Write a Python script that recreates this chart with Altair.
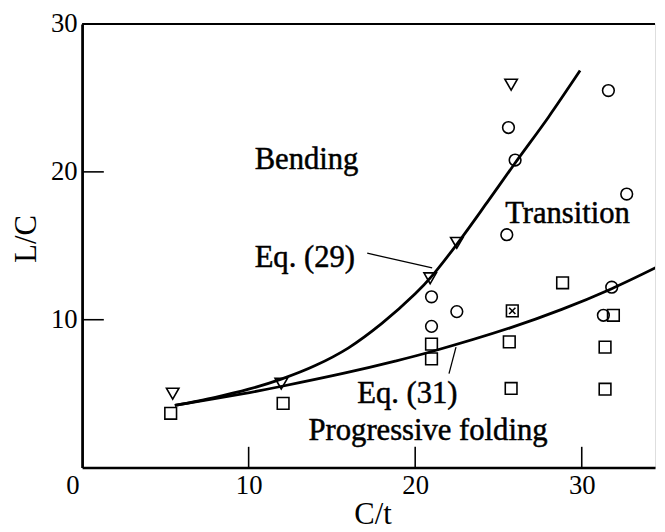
import altair as alt
import pandas as pd

# ---- data ----
tri_x = [5.44, 11.96, 20.9, 22.5, 25.76]
tri_y = [5.0, 5.68, 12.8, 15.2, 25.9]

circ_x = [20.98, 22.5, 20.98, 25.6, 26.0, 31.6, 32.7, 25.5, 31.8, 31.3]
circ_y = [11.55, 10.55, 9.55, 23.0, 20.8, 25.5, 18.5, 15.75, 12.2, 10.3]

sq_x = [5.32, 12.07, 20.98, 20.98, 28.85, 25.83, 31.9, 25.65, 31.4, 25.76, 31.4]
sq_y = [3.67, 4.34, 8.35, 7.35, 12.5, 10.6, 10.3, 8.5, 8.15, 5.35, 5.3]

cross_x = [25.83]
cross_y = [10.6]

eq29_x = [5.57, 8.0, 10.0, 12.0, 14.0, 16.0, 18.0, 20.0, 21.0, 22.5, 24.3, 26.0, 28.0, 29.9]
eq29_y = [4.2, 4.75, 5.3, 6.0, 6.9, 8.1, 9.75, 11.75, 12.95, 15.1, 17.9, 20.6, 23.7, 26.85]

eq31_x = [5.57, 9.7, 12.0, 15.8, 18.8, 21.0, 25.7, 28.8, 31.8, 34.5]
eq31_y = [4.2, 5.0, 5.5, 6.4, 7.2, 7.85, 9.45, 10.7, 12.1, 13.55]

lead29_x = [17.12, 21.02]
lead29_y = [14.5, 13.5]
lead31_x = [22.45, 22.03]
lead31_y = [8.15, 6.35]

label_text = ["Bending", "Transition", "Eq. (29)", "Eq. (31)", "Progressive folding"]
label_x = [10.36, 25.4, 10.36, 16.52, 13.6]
label_y = [20.17, 16.57, 13.56, 4.34, 1.87]

x_tick_values = [0, 10, 20, 30]
y_tick_values = [10, 20, 30]
x_inner_ticks = [10, 20, 30]
y_inner_ticks = [10, 20]

X_MAX = 34.4
Y_MAX = 30
W, H = 580, 449
FONT = "Liberation Serif"

xs = alt.Scale(domain=[0, X_MAX], nice=False, zero=False)
ys = alt.Scale(domain=[0, Y_MAX], nice=False, zero=False)

xaxis = alt.Axis(
    values=x_tick_values, ticks=False, grid=False, labelFlush=False,
    domainColor="black", domainWidth=2.6,
    labelFont=FONT, labelFontSize=27, labelColor="black", labelPadding=5,
    labelAlign={"condition": {"test": "datum.value == 0", "value": "right"}, "value": "center"},
    labelOffset={"condition": {"test": "datum.value == 0", "value": -3}, "value": 0},
    title="C/t", titleFont=FONT, titleFontSize=31, titleFontWeight="normal",
    titleColor="black", titleX=294, titleY=57, titleAlign="center",
    titleBaseline="alphabetic",
)
yaxis = alt.Axis(
    values=y_tick_values, ticks=False, grid=False, labelFlush=False,
    domainColor="black", domainWidth=2.8,
    labelFont=FONT, labelFontSize=27, labelColor="black", labelPadding=5,
    title="L/C", titleFont=FONT, titleFontSize=31, titleFontWeight="normal",
    titleColor="black", titleX=-56, titleY=217, titleAlign="center",
    titleBaseline="middle", titleAngle=270,
)


def X(field):
    return alt.X(field, type="quantitative", scale=xs, axis=xaxis)


def Y(field):
    return alt.Y(field, type="quantitative", scale=ys, axis=yaxis)


tri_df = pd.DataFrame({"x": tri_x, "y": tri_y})
circ_df = pd.DataFrame({"x": circ_x, "y": circ_y})
sq_df = pd.DataFrame({"x": sq_x, "y": sq_y})
cross_df = pd.DataFrame({"x": cross_x, "y": cross_y})
eq29_df = pd.DataFrame({"x": eq29_x, "y": eq29_y})
eq31_df = pd.DataFrame({"x": eq31_x, "y": eq31_y})
l29_df = pd.DataFrame({"x": lead29_x, "y": lead29_y})
l31_df = pd.DataFrame({"x": lead31_x, "y": lead31_y})
lab_df = pd.DataFrame({"t": label_text, "x": label_x, "y": label_y})
xt_df = pd.DataFrame({"x": x_inner_ticks})
yt_df = pd.DataFrame({"y": y_inner_ticks})
top_df = pd.DataFrame({"y": [Y_MAX]})

curve29 = alt.Chart(eq29_df).mark_line(color="black", strokeWidth=2.8, interpolate="catmull-rom", clip=True).encode(x=X("x"), y=Y("y"))
curve31 = alt.Chart(eq31_df).mark_line(color="black", strokeWidth=2.8, interpolate="catmull-rom", clip=True).encode(x=X("x"), y=Y("y"))
lead29 = alt.Chart(l29_df).mark_line(color="black", strokeWidth=1.3).encode(x=X("x"), y=Y("y"))
lead31 = alt.Chart(l31_df).mark_line(color="black", strokeWidth=1.3).encode(x=X("x"), y=Y("y"))

pt_style = dict(filled=False, stroke="black", strokeWidth=1.6, opacity=1)
tris = alt.Chart(tri_df).mark_point(shape="triangle-down", size=160, **pt_style).encode(x=X("x"), y=Y("y"))
circs = alt.Chart(circ_df).mark_point(shape="circle", size=140, **pt_style).encode(x=X("x"), y=Y("y"))
sqs = alt.Chart(sq_df).mark_point(shape="square", size=140, **pt_style).encode(x=X("x"), y=Y("y"))
cross = alt.Chart(cross_df).mark_point(shape="M-1,-1L1,1M-1,1L1,-1", size=40, **pt_style).encode(x=X("x"), y=Y("y"))

labels = alt.Chart(lab_df).mark_text(
    font=FONT, fontSize=31, align="left", baseline="alphabetic", color="black",
    stroke="black", strokeWidth=0.5
).encode(x=X("x"), y=Y("y"), text="t:N")

xticks = alt.Chart(xt_df).mark_rule(color="black", strokeWidth=1.6).encode(
    x=X("x"), y=alt.value(H), y2=alt.value(H - 21)
)
yticks = alt.Chart(yt_df).mark_rule(color="black", strokeWidth=1.6).encode(
    y=Y("y"), x=alt.value(0), x2=alt.value(22)
)
top = alt.Chart(top_df).mark_rule(color="black", strokeWidth=2).encode(
    y=Y("y"), x=alt.value(0), x2=alt.value(W)
)

chart = alt.layer(
    top, xticks, yticks, curve29, curve31, lead29, lead31, tris, circs, sqs, cross, labels
).properties(
    width=W, height=H,
    autosize=alt.AutoSizeParams(type="none"),
    padding={"left": 75, "top": 13, "right": 2, "bottom": 62},
).configure_view(stroke=None).configure(background="white")

chart.save("out.html", embed_options={"renderer": "svg", "actions": False})
